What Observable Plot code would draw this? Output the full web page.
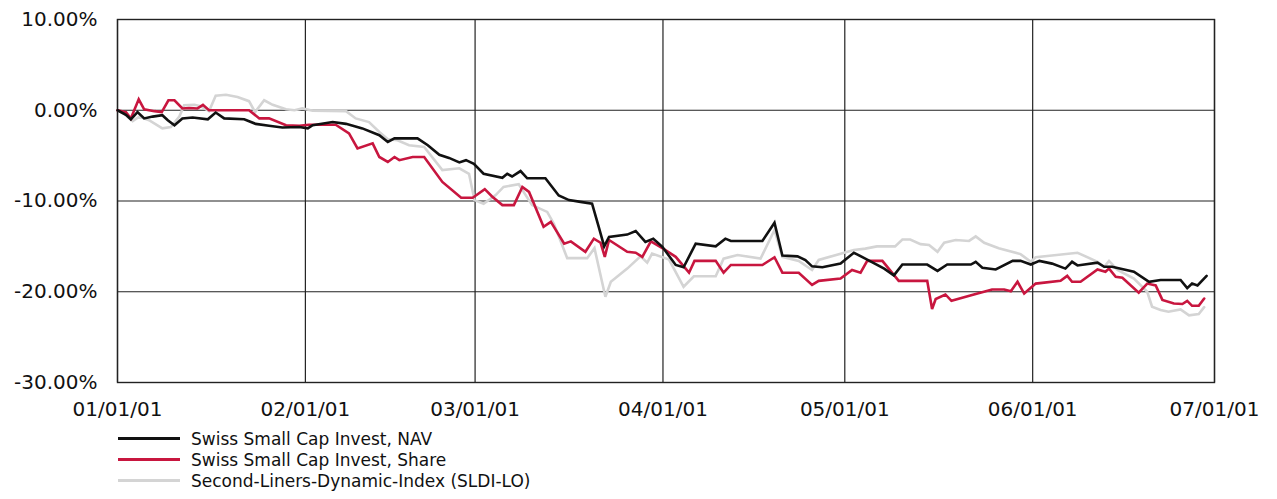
<!DOCTYPE html>
<html>
<head>
<meta charset="utf-8">
<script src="https://cdn.jsdelivr.net/npm/d3@7"></script>
<script src="https://cdn.jsdelivr.net/npm/@observablehq/plot@0.6"></script>
<style>
  body { margin: 0; background: #fff; font-family: "DejaVu Sans", sans-serif; }
  #wrap { position: relative; width: 1277px; height: 499px; overflow: hidden; }
  #legend { position: absolute; left: 118px; top: 428px; font-size: 17px; color: #111; }
  .row { display: flex; align-items: center; height: 21px; }
  .sw { width: 62px; height: 0; border-top: 3px solid; margin-right: 11px; }
</style>
</head>
<body>
<div id="wrap"><div id="chart"></div><div id="legend"></div></div>
<script>
// Days since 2001-01-01, and cumulative performance in %
const navDays = [0,1.4,2.2,3.3,4.4,5.8,7.4,8.3,9.4,10.7,12.4,14.9,16.2,17.6,20.9,22.8,25,27.2,30,31.4,32.2,35.5,37.7,40.4,43.2,44.6,45.7,49.5,51.2,53.1,54.7,56.4,57.5,58.8,60.4,63.5,64.3,65.1,66.5,67.6,70.6,72.8,74.5,76.4,78.3,79.4,80.3,81.1,84.1,85.5,87.1,88.4,89.9,92.1,93.4,95.4,98.7,100.3,101.2,106.4,108.4,109.7,112.2,113.5,114.6,116.3,119.3,121.5,123.7,126.5,128.1,129.5,133.6,135.3,136.9,140.8,141.6,142.7,144.9,147.7,149,150.7,152.1,154.2,156.4,157.5,158.4,161.7,162.8,164.1,167.7,170.2,172.1,175.4,176.5,177.3,178.2,179.7];
const navValues = [0,-0.5,-1.0,-0.2,-0.9,-0.7,-0.55,-1.1,-1.65,-0.9,-0.8,-1.0,-0.25,-0.9,-1.0,-1.5,-1.7,-1.9,-1.85,-2.0,-1.65,-1.3,-1.5,-2.0,-2.75,-3.5,-3.1,-3.1,-3.85,-4.9,-5.25,-5.75,-5.5,-5.9,-7.0,-7.45,-7.0,-7.3,-6.7,-7.5,-7.5,-9.4,-9.9,-10.1,-10.3,-12.85,-15.0,-13.95,-13.7,-13.3,-14.5,-14.15,-15.05,-17.05,-17.3,-14.7,-15.0,-14.15,-14.4,-14.4,-12.4,-16.0,-16.1,-16.5,-17.2,-17.3,-16.9,-15.7,-16.45,-17.45,-18.2,-17.0,-17.0,-17.7,-17.0,-17.0,-16.7,-17.35,-17.55,-16.6,-16.6,-17.0,-16.6,-16.9,-17.45,-16.7,-17.1,-16.8,-17.25,-17.25,-17.8,-18.9,-18.7,-18.7,-19.6,-19.1,-19.3,-18.25];

const shareDays = [0,1.4,2.2,3.5,4.4,6.1,7.3,8.4,9.4,10.7,11.8,13.2,14.1,15.1,21.7,23.4,25,27.8,30,31.6,36,38.2,39.6,42.1,43.2,44.6,45.7,46.5,48.7,50.6,53.6,56.7,58.6,60.6,61.8,63.5,65.4,66.8,67.9,70.3,71.5,73.7,74.8,77.2,78.6,79.7,80.4,81.1,84.1,85.5,86.6,88,89.9,92.1,94.3,95.2,98.7,100,101.2,106.4,108.4,109.7,112.4,114.6,115.7,119.3,121.2,122.6,123.7,126.2,128.9,133.6,134.4,135,136.6,137.6,141.3,144.3,146.3,147.4,148.5,149.6,151.5,155.6,156.7,157.5,158.9,161.7,163,163.6,164.7,165.8,168.5,169.9,171.3,172.4,174.3,175.7,176.5,177.3,178.4,179.3];
const shareValues = [0,-0.2,-0.9,1.2,0.1,-0.1,-0.2,1.1,1.1,0.2,0.25,0.2,0.6,0,0,-0.9,-0.9,-1.65,-1.7,-1.6,-1.6,-2.55,-4.2,-3.65,-5.15,-5.7,-5.15,-5.5,-5.15,-5.15,-7.9,-9.65,-9.65,-8.7,-9.5,-10.45,-10.45,-8.45,-9.0,-12.85,-12.3,-14.7,-14.45,-15.6,-14.15,-14.6,-16.15,-14.3,-15.6,-15.7,-16.15,-14.45,-15.2,-16.15,-17.9,-16.6,-16.6,-17.9,-17.05,-17.05,-16.2,-17.9,-17.9,-19.25,-18.8,-18.55,-17.6,-17.9,-16.6,-16.6,-18.8,-18.8,-21.9,-20.8,-20.3,-21.0,-20.3,-19.75,-19.75,-19.95,-18.9,-20.2,-19.1,-18.8,-18.25,-18.9,-18.9,-17.55,-17.8,-17.45,-18.35,-18.45,-20.1,-19.1,-19.3,-20.9,-21.3,-21.35,-21.0,-21.55,-21.55,-20.75];

const indexDays = [0,1.4,2.5,3.6,5.2,7.4,8.8,10.2,11,12.7,13.7,15.1,16.2,17.9,19.8,21.7,22.7,24.2,25.6,27.8,29.2,30.5,32.2,37.7,39.3,41.5,43.2,44.6,46.2,48.1,50.6,53.6,56.4,58,58.9,60.4,62.4,63.7,66.2,68.4,70.9,72,74.2,77.5,78.7,80.5,81.4,84.1,86.3,87.4,88.2,91,93.4,95.1,98.7,100,102.3,106.1,108.4,109.7,112.4,114.6,115.7,119.3,121.5,123.4,125.3,128.3,129.5,130.8,132.5,133.9,135.3,136.4,138.3,140.5,141.6,143,145.4,149,150.7,151.5,158.4,161.7,162.8,163.6,165,167.7,169.9,170.7,172.1,173.4,175.4,176.8,178.4,179.3];
const indexValues = [0,-0.55,-1.2,-0.7,-1.1,-2.0,-1.85,-0.7,0.55,0.6,0.45,-0.1,1.6,1.7,1.45,1.0,-0.2,1.1,0.6,0.1,0,0.2,-0.05,-0.1,-0.9,-1.3,-2.4,-3.2,-3.3,-3.85,-4.05,-6.6,-6.4,-7.0,-9.9,-10.3,-9.35,-8.45,-8.15,-10.45,-11.2,-12.5,-16.3,-16.3,-15.2,-20.55,-18.9,-17.45,-16.1,-16.8,-15.8,-16.45,-19.45,-18.3,-18.3,-16.35,-15.95,-16.35,-13.2,-16.15,-16.6,-17.6,-16.5,-15.8,-15.4,-15.25,-15.0,-15.0,-14.25,-14.25,-14.75,-14.85,-15.6,-14.6,-14.3,-14.4,-13.9,-14.6,-15.2,-15.85,-16.7,-16.2,-15.7,-16.7,-17.25,-16.6,-17.6,-18.55,-20.0,-21.65,-22.0,-22.2,-21.95,-22.6,-22.45,-21.7];

const seriesNames = ["Swiss Small Cap Invest, NAV", "Swiss Small Cap Invest, Share", "Second-Liners-Dynamic-Index (SLDI-LO)"];
const seriesColors = ["#111111", "#c8163f", "#d4d4d4"];
const yTicks = [-30, -20, -10, 0, 10];
const xStart = "2001-01-01", xEnd = "2001-07-01";

const t0 = Date.parse(xStart + "T00:00:00Z");
const toRows = (days, vals, name) => days.map((d, i) => ({date: new Date(t0 + d * 864e5), value: vals[i], series: name}));
const rows = [
  ...toRows(indexDays, indexValues, seriesNames[2]),
  ...toRows(shareDays, shareValues, seriesNames[1]),
  ...toRows(navDays, navValues, seriesNames[0])
];

const chart = Plot.plot({
  width: 1277,
  height: 428,
  marginTop: 19,
  marginBottom: 46,
  marginLeft: 117,
  marginRight: 63,
  style: {fontFamily: "DejaVu Sans, sans-serif", fontSize: "20px", color: "#111", background: "#fff", overflow: "visible"},
  x: {type: "utc", domain: [new Date(xStart), new Date(xEnd)], ticks: d3.utcMonth.every(1), tickFormat: d3.utcFormat("%m/%d/%y"), tickSize: 0, tickPadding: 19, label: null},
  y: {domain: [-30, 10], ticks: yTicks, tickFormat: d => d.toFixed(2) + "%", tickSize: 0, tickPadding: 20, label: null},
  color: {domain: seriesNames, range: seriesColors},
  marks: [
    Plot.gridX({ticks: d3.utcMonth.every(1), stroke: "#222", strokeOpacity: 1, strokeWidth: 1.2}),
    Plot.gridY(yTicks, {stroke: "#222", strokeOpacity: 1, strokeWidth: 1.2}),
    Plot.frame({stroke: "#222", strokeWidth: 1.4}),
    ...seriesNames.slice().reverse().map(name =>
      Plot.line(rows.filter(r => r.series === name), {x: "date", y: "value", stroke: "series", strokeWidth: 2.6, strokeLinejoin: "miter", strokeMiterlimit: 3})
    )
  ]
});
document.getElementById("chart").appendChild(chart);

const legend = document.getElementById("legend");
seriesNames.forEach((name, i) => {
  const row = document.createElement("div");
  row.className = "row";
  const sw = document.createElement("span");
  sw.className = "sw";
  sw.style.borderTopColor = seriesColors[i];
  const label = document.createElement("span");
  label.textContent = name;
  row.appendChild(sw);
  row.appendChild(label);
  legend.appendChild(row);
});
</script>
</body>
</html>
